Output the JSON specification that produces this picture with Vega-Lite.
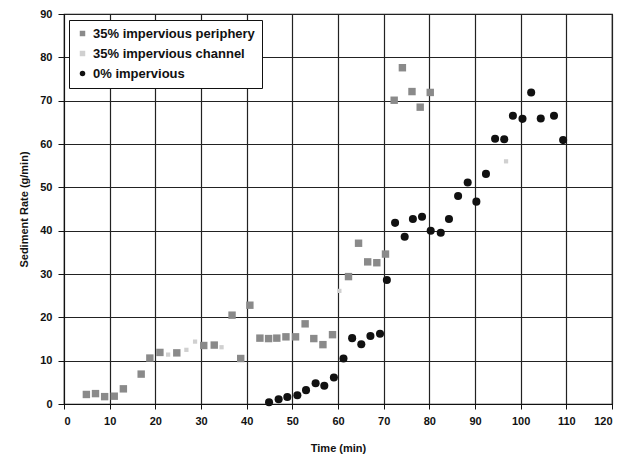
{
  "$schema": "https://vega.github.io/schema/vega-lite/v6.json",
  "autosize": {"type": "none"},
  "width": 548,
  "height": 390,
  "padding": {"left": 64, "top": 14, "right": 21, "bottom": 54},
  "background": "white",
  "config": {
    "font": "Liberation Sans",
    "view": {"stroke": "#111", "strokeWidth": 1.2},
    "axis": {
      "grid": true,
      "gridColor": "#222",
      "gridWidth": 1.2,
      "gridOpacity": 1,
      "domainColor": "#111",
      "tickColor": "#111",
      "labelFont": "Liberation Sans",
      "labelFontWeight": "bold",
      "labelFontSize": 11,
      "labelColor": "#111",
      "titleFont": "Liberation Sans",
      "titleFontWeight": "bold",
      "titleFontSize": 11,
      "titleColor": "#111"
    }
  },
  "data": {
    "values": [
      {"s": "35% impervious periphery", "t": 4.9, "r": 2.2},
      {"s": "35% impervious periphery", "t": 6.9, "r": 2.4},
      {"s": "35% impervious periphery", "t": 8.9, "r": 1.7},
      {"s": "35% impervious periphery", "t": 11.0, "r": 1.8},
      {"s": "35% impervious periphery", "t": 13.0, "r": 3.5},
      {"s": "35% impervious periphery", "t": 16.9, "r": 6.9},
      {"s": "35% impervious periphery", "t": 18.8, "r": 10.6},
      {"s": "35% impervious periphery", "t": 21.0, "r": 11.9},
      {"s": "35% impervious periphery", "t": 24.7, "r": 11.8},
      {"s": "35% impervious periphery", "t": 30.6, "r": 13.5},
      {"s": "35% impervious periphery", "t": 32.9, "r": 13.6},
      {"s": "35% impervious periphery", "t": 36.8, "r": 20.5},
      {"s": "35% impervious periphery", "t": 38.7, "r": 10.5},
      {"s": "35% impervious periphery", "t": 40.7, "r": 22.8},
      {"s": "35% impervious periphery", "t": 42.9, "r": 15.2},
      {"s": "35% impervious periphery", "t": 44.8, "r": 15.1},
      {"s": "35% impervious periphery", "t": 46.6, "r": 15.2},
      {"s": "35% impervious periphery", "t": 48.6, "r": 15.5},
      {"s": "35% impervious periphery", "t": 50.7, "r": 15.5},
      {"s": "35% impervious periphery", "t": 52.8, "r": 18.5},
      {"s": "35% impervious periphery", "t": 54.7, "r": 15.1},
      {"s": "35% impervious periphery", "t": 56.7, "r": 13.7},
      {"s": "35% impervious periphery", "t": 58.8, "r": 16.0},
      {"s": "35% impervious periphery", "t": 62.3, "r": 29.4},
      {"s": "35% impervious periphery", "t": 64.5, "r": 37.1},
      {"s": "35% impervious periphery", "t": 66.5, "r": 32.8},
      {"s": "35% impervious periphery", "t": 68.5, "r": 32.6},
      {"s": "35% impervious periphery", "t": 70.4, "r": 34.6},
      {"s": "35% impervious periphery", "t": 72.3, "r": 70.1},
      {"s": "35% impervious periphery", "t": 74.1, "r": 77.6},
      {"s": "35% impervious periphery", "t": 76.2, "r": 72.1},
      {"s": "35% impervious periphery", "t": 78.0, "r": 68.5},
      {"s": "35% impervious periphery", "t": 80.2, "r": 71.9},
      {"s": "35% impervious channel", "t": 22.8, "r": 11.4},
      {"s": "35% impervious channel", "t": 26.8, "r": 12.5},
      {"s": "35% impervious channel", "t": 28.7, "r": 14.4},
      {"s": "35% impervious channel", "t": 34.5, "r": 13.1},
      {"s": "35% impervious channel", "t": 60.3, "r": 26.1},
      {"s": "35% impervious channel", "t": 96.8, "r": 56.0},
      {"s": "0% impervious", "t": 44.9, "r": 0.4},
      {"s": "0% impervious", "t": 47.0, "r": 1.1},
      {"s": "0% impervious", "t": 48.9, "r": 1.6},
      {"s": "0% impervious", "t": 51.1, "r": 2.0},
      {"s": "0% impervious", "t": 53.0, "r": 3.2},
      {"s": "0% impervious", "t": 55.1, "r": 4.8},
      {"s": "0% impervious", "t": 57.0, "r": 4.2},
      {"s": "0% impervious", "t": 59.1, "r": 6.1},
      {"s": "0% impervious", "t": 61.2, "r": 10.5},
      {"s": "0% impervious", "t": 63.1, "r": 15.2},
      {"s": "0% impervious", "t": 65.1, "r": 13.8},
      {"s": "0% impervious", "t": 67.1, "r": 15.7},
      {"s": "0% impervious", "t": 69.2, "r": 16.2},
      {"s": "0% impervious", "t": 70.7, "r": 28.6},
      {"s": "0% impervious", "t": 72.5, "r": 41.8},
      {"s": "0% impervious", "t": 74.6, "r": 38.6},
      {"s": "0% impervious", "t": 76.4, "r": 42.7},
      {"s": "0% impervious", "t": 78.4, "r": 43.2},
      {"s": "0% impervious", "t": 80.3, "r": 40.0},
      {"s": "0% impervious", "t": 82.5, "r": 39.5},
      {"s": "0% impervious", "t": 84.3, "r": 42.7},
      {"s": "0% impervious", "t": 86.3, "r": 48.0},
      {"s": "0% impervious", "t": 88.4, "r": 51.1},
      {"s": "0% impervious", "t": 90.3, "r": 46.7},
      {"s": "0% impervious", "t": 92.4, "r": 53.1},
      {"s": "0% impervious", "t": 94.4, "r": 61.2},
      {"s": "0% impervious", "t": 96.4, "r": 61.1},
      {"s": "0% impervious", "t": 98.3, "r": 66.5},
      {"s": "0% impervious", "t": 100.4, "r": 65.8},
      {"s": "0% impervious", "t": 102.3, "r": 71.9},
      {"s": "0% impervious", "t": 104.4, "r": 65.9},
      {"s": "0% impervious", "t": 107.3, "r": 66.5},
      {"s": "0% impervious", "t": 109.3, "r": 60.9}
    ]
  },
  "encoding": {
    "x": {
      "field": "t",
      "type": "quantitative",
      "title": "Time (min)",
      "scale": {"domain": [0, 120], "nice": false},
      "axis": {"values": [0,10,20,30,40,50,60,70,80,90,100,110,120], "tickSize": 5, "labelPadding": 6, "titlePadding": 16}
    },
    "y": {
      "field": "r",
      "type": "quantitative",
      "title": "Sediment Rate (g/min)",
      "scale": {"domain": [0, 90], "nice": false},
      "axis": {"values": [0,10,20,30,40,50,60,70,80,90], "tickSize": 6, "labelPadding": 6, "titlePadding": 10}
    },
    "color": {
      "field": "s",
      "type": "nominal",
      "scale": {
        "domain": ["35% impervious periphery", "35% impervious channel", "0% impervious"],
        "range": ["#8a8a8a", "#d0d0d0", "#111111"]
      },
      "legend": {
        "title": null,
        "orient": "none",
        "legendX": 5,
        "legendY": 6,
        "direction": "vertical",
        "fillColor": "white",
        "strokeColor": "#111",
        "padding": 7,
        "rowPadding": 6,
        "labelFont": "Liberation Sans",
        "labelFontWeight": "bold",
        "labelFontSize": 13,
        "labelLimit": 0,
        "labelColor": "#111",
        "symbolSize": 30,
        "labelOffset": 4
      }
    },
    "shape": {
      "field": "s",
      "type": "nominal",
      "scale": {
        "domain": ["35% impervious periphery", "35% impervious channel", "0% impervious"],
        "range": ["square", "square", "circle"]
      },
      "legend": null
    }
  },
  "layer": [
    {
      "transform": [{"filter": "datum.s === '35% impervious periphery'"}],
      "mark": {"type": "point", "filled": true, "opacity": 1, "size": 55}
    },
    {
      "transform": [{"filter": "datum.s === '35% impervious channel'"}],
      "mark": {"type": "point", "filled": true, "opacity": 1, "size": 18}
    },
    {
      "transform": [{"filter": "datum.s === '0% impervious'"}],
      "mark": {"type": "point", "filled": true, "opacity": 1, "size": 65}
    }
  ]
}
